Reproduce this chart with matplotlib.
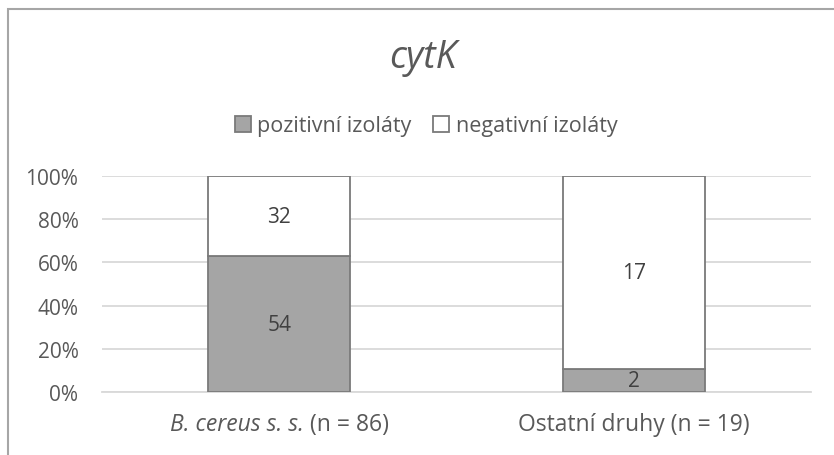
import matplotlib.pyplot as plt
from matplotlib.patches import Rectangle
from matplotlib.ticker import PercentFormatter
from matplotlib.offsetbox import TextArea, HPacker, AnnotationBbox

plt.rcParams["font.family"] = ["Open Sans", "DejaVu Sans"]

cat_italic = ["B. cereus s. s.", ""]
cat_rest = [" (n = 86)", "Ostatní druhy (n = 19)"]
positive = [54, 2]
negative = [32, 17]
series_names = ["pozitivní izoláty", "negativní izoláty"]

text_color = "#595959"

totals = [p + n for p, n in zip(positive, negative)]
pos_pct = [p / t * 100 for p, t in zip(positive, totals)]
neg_pct = [n / t * 100 for n, t in zip(negative, totals)]

fig = plt.figure(figsize=(8.34, 4.56), dpi=100)
ax = fig.add_axes([0.1223, 0.1382, 0.8501, 0.4736])

x = list(range(len(cat_rest)))
bars_pos = ax.bar(x, pos_pct, width=0.4, color="#A5A5A5", edgecolor="#7A7A7A",
                  linewidth=1.3, label=series_names[0], zorder=3)
bars_neg = ax.bar(x, neg_pct, width=0.4, bottom=pos_pct, color="white",
                  edgecolor="#7A7A7A", linewidth=1.3, label=series_names[1], zorder=3)

for rect, val in zip(bars_pos, positive):
    ax.text(rect.get_x() + rect.get_width() / 2, rect.get_y() + rect.get_height() / 2,
            str(val), ha="center", va="center", fontsize=15, color="#404040", zorder=4)
for rect, val in zip(bars_neg, negative):
    ax.text(rect.get_x() + rect.get_width() / 2, rect.get_y() + rect.get_height() / 2,
            str(val), ha="center", va="center", fontsize=15, color="#404040", zorder=4)

ax.set_xlim(-0.5, 1.5)
ax.set_ylim(0, 100)
ax.set_yticks(range(0, 101, 20))
ax.yaxis.set_major_formatter(PercentFormatter(decimals=0))
ax.set_xticks(x)
ax.set_xticklabels([])

ax.grid(axis="y", color="#D9D9D9", linewidth=1.3, zorder=0)
for side in ["top", "right", "left"]:
    ax.spines[side].set_visible(False)
ax.spines["bottom"].set_color("#D9D9D9")
ax.spines["bottom"].set_linewidth(1.3)

ax.tick_params(axis="y", length=0, pad=17, labelsize=15, labelcolor=text_color)
ax.tick_params(axis="x", length=0)

# category labels: italic species name + upright count
for xi, it, rest in zip(x, cat_italic, cat_rest):
    parts = []
    if it:
        parts.append(TextArea(it, textprops=dict(fontsize=16.5, style="italic",
                                                  color=text_color)))
    parts.append(TextArea(rest, textprops=dict(fontsize=16.5, color=text_color)))
    pack = HPacker(children=parts, align="baseline", pad=0, sep=0)
    ab = AnnotationBbox(pack, (xi, -0.095), xycoords=("data", "axes fraction"),
                        box_alignment=(0.5, 1.0), frameon=False, pad=0)
    ax.add_artist(ab)

fig.text(0.507, 0.873, "cytK", ha="center", va="center", fontsize=27,
         style="italic", color=text_color)

fig.legend(handles=[bars_pos, bars_neg], labels=series_names, loc="center",
           bbox_to_anchor=(0.511, 0.7215), ncol=2, frameon=False, fontsize=15.5,
           labelcolor=text_color, handlelength=0.75, handleheight=0.75,
           handletextpad=0.3, columnspacing=1.0)

fig.add_artist(Rectangle((8 / 834, -0.1), 1.0, 1.1 - 10 / 456, transform=fig.transFigure,
                         fill=False, edgecolor="#A6A6A6", linewidth=1.5))

fig.savefig("out.png", dpi=100)
plt.close(fig)
